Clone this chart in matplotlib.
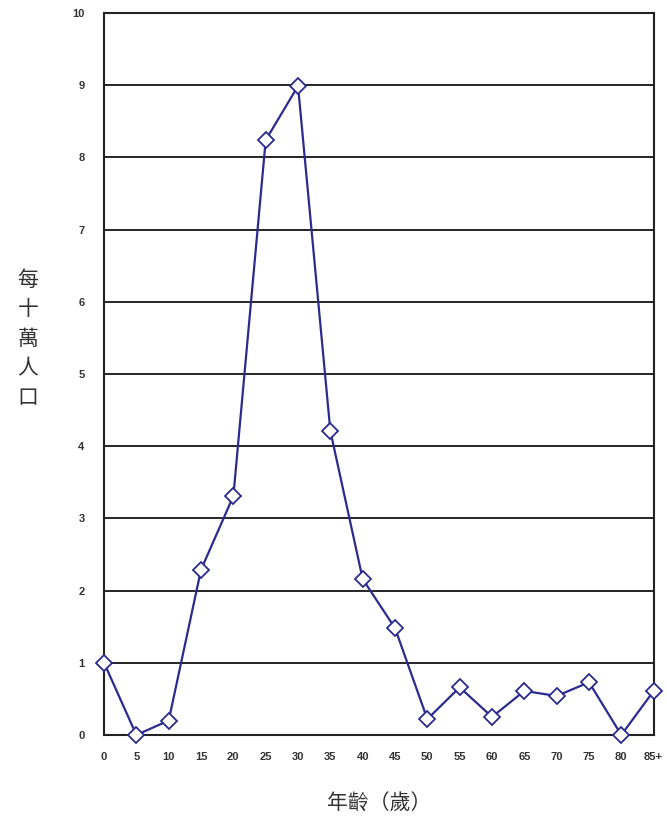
import matplotlib
matplotlib.use("Agg")
import matplotlib.pyplot as plt

plt.rcParams['font.family'] = ['Noto Sans CJK TC', 'DejaVu Sans']

# 年齡組別與每十萬人口比率
age_labels = ["0", "5", "10", "15", "20", "25", "30", "35", "40", "45",
              "50", "55", "60", "65", "70", "75", "80", "85+"]
rates = [1.0, 0.0, 0.2, 2.29, 3.31, 8.24, 8.99, 4.21, 2.16, 1.48,
         0.22, 0.66, 0.25, 0.61, 0.54, 0.73, 0.0, 0.61]
y_ticks = list(range(0, 11))

fig = plt.figure(figsize=(6.67, 8.17), dpi=100)
ax = fig.add_axes([0.156, 0.1004, 0.824, 0.8836])

x = list(range(len(age_labels)))
ax.plot(x, rates, color="#2b2b8f", linewidth=1.6, marker="D", markersize=8,
        markerfacecolor="white", markeredgecolor="#2b2b8f", markeredgewidth=1.3,
        clip_on=False, zorder=3)

ax.set_xlim(0, len(age_labels) - 1)
ax.set_ylim(0, 10)
ax.set_xticks(x)
ax.set_xticklabels(age_labels, fontsize=8, color="#333333",
                   family=["Liberation Sans", "DejaVu Sans"], fontweight="bold")
ax.set_yticks(y_ticks)
ax.set_yticklabels([str(t) for t in y_ticks], fontsize=8, color="#333333",
                   family=["Liberation Sans", "DejaVu Sans"], fontweight="bold")
ax.tick_params(length=0, pad=12)
ax.tick_params(axis="y", pad=14)
ax.yaxis.grid(True, color="black", linewidth=1.2)
ax.set_axisbelow(True)
for s in ax.spines.values():
    s.set_color("#222222")
    s.set_linewidth(1.5)

ax.set_xlabel("年齡（歲）", fontsize=15, color="#333333", labelpad=22)
fig.text(0.042, 0.585, "每\n十\n萬\n人\n口", fontsize=15, color="#333333",
         ha="center", va="center", linespacing=1.45)

fig.savefig("out.png", dpi=100)
